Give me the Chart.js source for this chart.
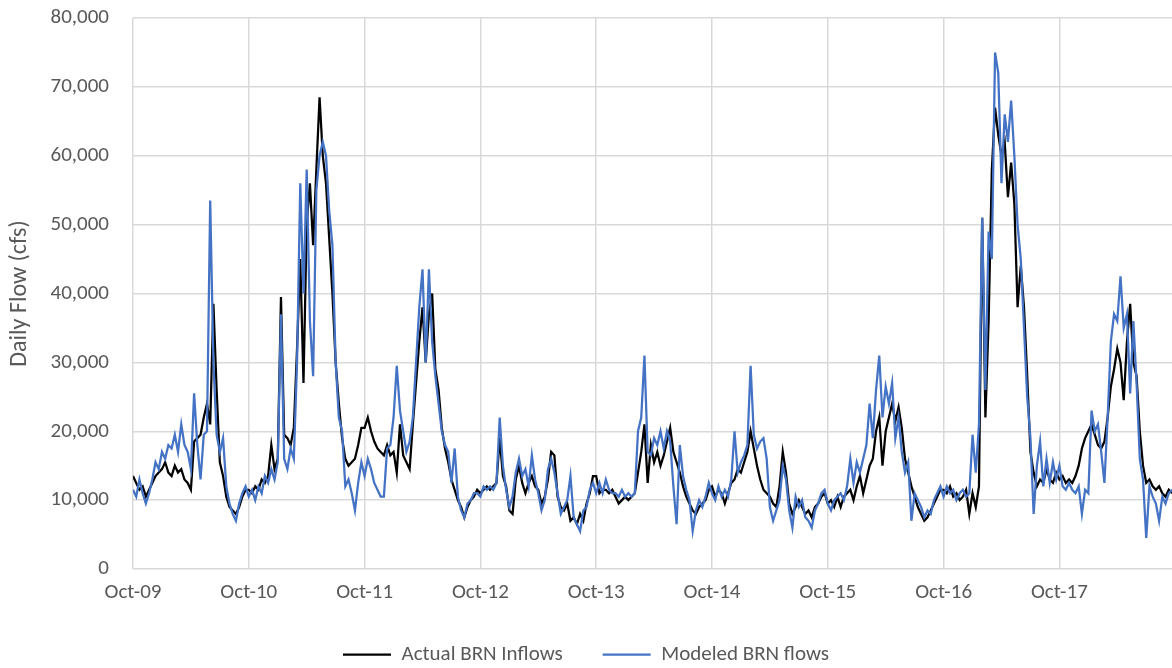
<!DOCTYPE html>
<html>
<head>
<meta charset="utf-8">
<script src="https://cdn.jsdelivr.net/npm/chart.js@4.4.0/dist/chart.umd.min.js"></script>
<style>
  html, body { margin: 0; padding: 0; background: #fff; }
  #wrap { width: 1172px; height: 668px; }
</style>
</head>
<body>
<div id="wrap"><canvas id="flowChart" width="1172" height="668"></canvas></div>
<script>
// one label per October gridline
const TICK_LABELS = ["Oct-09", "Oct-10", "Oct-11", "Oct-12", "Oct-13", "Oct-14", "Oct-15", "Oct-16", "Oct-17"];

// daily flow (cfs), 3 samples a month, one water year per row
const ACTUAL = [
  13500,12500,11500, 12000,10500,11500, 12500,13500,14000, 14500,15500,14000, 13500,15000,14000, 14500,13000,12500, 11500,18500,19000, 19500,22000,24000, 21000,38500,26000, 15500,13500,10500, 9000,8500,8000, 9000,10500,11500,
  11500,11000,12000, 11500,13000,12500, 13500,18000,14500, 16000,39500,19500, 19000,18000,20500, 32000,45000,27000, 50000,56000,47000, 58000,68500,60000, 56000,48000,40000, 30000,24000,19000, 16000,15000,15500, 16000,18000,20500,
  20500,22000,20000, 18500,17500,17000, 16500,18000,16500, 17000,14000,21000, 16500,15500,14500, 21000,27000,33000, 38000,30000,37000, 40000,29000,26000, 20500,17500,15500, 13000,11500,10000, 9000,7500,9000, 10000,10500,11500,
  11000,11500,12000, 11500,12000,12500, 19000,13500,12000, 8500,8000,13000, 15000,12500,11000, 12500,13500,12000, 11500,9500,10500, 13000,17000,16500, 10500,9000,8500, 9500,7000,7500, 6500,8000,7000, 9500,11000,13500,
  13500,11000,11500, 11500,11000,11500, 10500,9500,10000, 10500,10000,10500, 11000,14000,17000, 21000,12500,18000, 15500,17000,15000, 16500,18500,20500, 17000,15500,14000, 12000,10500,9500, 8500,8000,9000, 9500,10000,11500,
  12000,10500,11500, 11000,9500,11000, 12500,13000,14500, 14000,15500,17000, 20000,17500,15000, 13000,11500,11000, 10500,9500,9000, 12000,17000,14000, 9500,8000,9000, 10000,9000,8000, 8500,7500,9000, 9500,10500,11000,
  9500,10000,9000, 10500,9000,10500, 11000,11500,10000, 12000,13500,11000, 13000,15000,16000, 20000,22000,15000, 20000,22000,24000, 21500,23500,20500, 16000,14000,12000, 10500,9000,8000, 7000,7500,8500, 9500,10500,11500,
  11500,11000,12000, 10500,11000,10000, 10500,11500,8000, 11000,9000,12000, 51000,22000,36000, 58000,67000,63000, 60000,62000,54000, 59000,53000,38000, 44000,38000,28000, 17000,14000,12000, 13000,12500,14500, 13000,12500,14000,
  13000,13500,12500, 13000,12500,13500, 15000,17500,19000, 20000,21000,19500, 18000,17500,18500, 22000,26500,29000, 32000,30000,24500, 33000,38500,30000, 28000,20000,15000, 12500,13000,12000, 11500,12000,11000, 10500,11500,11000
];

const MODELED = [
  11500,10500,13000, 11000,9500,11000, 13000,15500,14500, 17000,16000,18000, 17500,19500,17000, 21000,18000,17000, 14500,25500,18000, 13000,19500,20000, 53500,30000,19500, 17000,19000,12000, 9500,8000,7000, 9500,11000,12000,
  10500,11500,10000, 12000,11000,13500, 12500,14500,13000, 15500,37000,16000, 14500,17500,16000, 30000,56000,40000, 58000,36000,28000, 55000,60000,62000, 60000,52000,47000, 30000,22000,20000, 12000,13000,11000, 8500,12500,15500,
  13500,16000,14500, 12500,11500,10500, 10500,17500,18000, 22000,29500,23000, 20000,17000,18500, 22000,30000,38000, 43500,30000,43500, 33000,28000,24000, 20000,18000,17000, 12500,17500,10500, 8500,7500,9500, 10000,11000,11000,
  10500,12000,11500, 12000,11500,12500, 22000,15000,11500, 9000,10500,14000, 16000,13500,14500, 12000,16500,13000, 11000,8500,10000, 14500,16000,14000, 11000,8000,9000, 10000,13500,7500, 6500,5500,8500, 9000,11500,12500,
  11000,12500,11000, 13000,11500,11000, 11000,10500,11500, 10500,11000,10500, 11000,20000,22000, 31000,17000,16500, 19000,18000,20000, 17500,20000,18500, 12000,6500,18000, 13500,11500,10000, 5500,8500,10000, 9000,10500,12500,
  11000,10000,12000, 10500,11500,10500, 13000,20000,14000, 15500,16500,18000, 29500,19500,17500, 18500,19000,16000, 9000,7000,8500, 10000,15000,13000, 8500,6000,10500, 9000,10000,7500, 7000,6000,8500, 9500,11000,11500,
  9500,8500,10000, 10500,11000,10000, 12000,16000,12500, 15500,14000,16000, 18000,24000,19000, 26000,31000,22000, 26500,24000,27000, 19000,22000,17000, 14000,15500,7000, 11000,10000,9000, 7500,8500,8000, 10000,11000,12000,
  10500,12000,11000, 11500,10000,11000, 11500,10500,11000, 19500,14000,21000, 51000,26000,49000, 45000,75000,72000, 56000,66000,62000, 68000,60000,50000, 45000,35000,25000, 19000,8000,15000, 18500,12000,16000, 12500,15500,13000,
  15000,12000,11500, 12500,11500,11000, 12000,8000,11500, 11000,23000,20000, 21000,17000,12500, 22000,33000,37000, 36000,42500,35000, 37000,25500,36000, 27000,16000,13000, 4500,12000,10500, 9500,7000,10500, 9500,11000,11500
];

const FONT = "Carlito, Lato, sans-serif";
const GREY = "#595959";
const GRID = "#d9d9d9";

// months since Oct-09
function toPoints(values) {
  return values.map((v, i) => ({ x: i / 3, y: v }));
}

// wide gaps between legend items but a short legend box
const legendHeight = {
  id: "legendHeight",
  beforeLayout(chart) {
    const lg = chart.legend;
    if (!lg || lg._patched) return;
    const fit = lg.fit;
    lg.fit = function () {
      fit.call(this);
      this.height = 64;
    };
    lg._patched = true;
  },
};

new Chart(document.getElementById("flowChart"), {
  type: "line",
  data: {
    datasets: [
      {
        label: "Actual BRN Inflows",
        data: toPoints(ACTUAL),
        borderColor: "#000000",
        borderWidth: 2.25,
        order: 2,
      },
      {
        label: "Modeled BRN flows",
        data: toPoints(MODELED),
        borderColor: "#4472c4",
        borderWidth: 2.25,
        order: 1,
      },
    ],
  },
  options: {
    responsive: false,
    animation: false,
    layout: { padding: { top: 18, right: 0, left: 0, bottom: 0 } },
    elements: { point: { radius: 0 }, line: { tension: 0 } },
    plugins: {
      tooltip: { enabled: false },
      legend: {
        position: "bottom",
        labels: {
          usePointStyle: true,
          pointStyle: "line",
          pointStyleWidth: 48,
          padding: 40,
          color: GREY,
          font: { family: FONT, size: 21 },
          sort: (a, b) => a.datasetIndex - b.datasetIndex,
        },
      },
    },
    scales: {
      x: {
        type: "linear",
        min: 0,
        max: 107.67,
        grid: { color: GRID, lineWidth: 1.5, drawTicks: false },
        border: { display: false },
        ticks: {
          stepSize: 12,
          includeBounds: false,
          maxRotation: 0,
          padding: 11,
          color: GREY,
          font: { family: FONT, size: 21 },
          callback: (v) => TICK_LABELS[v / 12],
        },
        afterFit: (s) => { s.height = 35; },
      },
      y: {
        min: 0,
        max: 80000,
        // invisible tick marks keep the labels away from the plot without padding the top
        grid: { color: GRID, lineWidth: 1.5, drawTicks: true, tickLength: 24, tickColor: "rgba(0,0,0,0)" },
        border: { display: false },
        ticks: {
          stepSize: 10000,
          padding: 0,
          color: GREY,
          font: { family: FONT, size: 21 },
          callback: (v) => v.toLocaleString("en-US"),
        },
        title: {
          display: true,
          text: "Daily Flow (cfs)",
          color: GREY,
          font: { family: FONT, size: 24 },
          padding: { top: 6, bottom: 4 },
        },
        afterFit: (s) => { s.width = 133; },
      },
    },
  },
  plugins: [legendHeight],
});
</script>
</body>
</html>
